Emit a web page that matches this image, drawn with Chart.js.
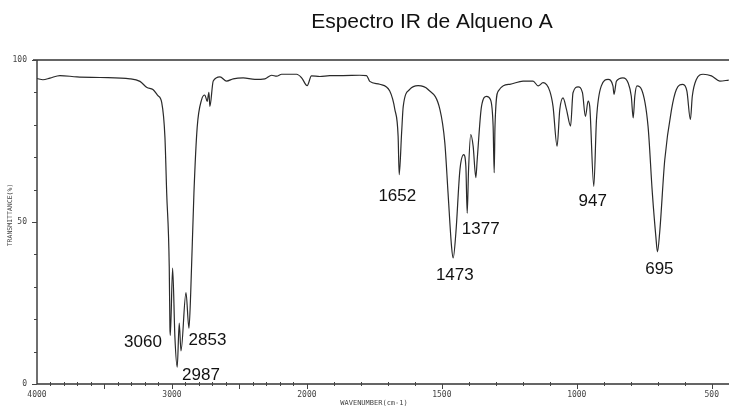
<!DOCTYPE html>
<html>
<head>
<meta charset="utf-8">
<script src="https://cdn.jsdelivr.net/npm/chart.js@4.4.1/dist/chart.umd.min.js"></script>
<style>
  html, body { margin: 0; padding: 0; background: #fff; }
  canvas { display: block; }
</style>
</head>
<body>
<canvas id="myChart" width="729" height="406"></canvas>
<script>
// spectrum (wavenumber in cm-1, transmittance in %)
var wavenumbers = [
  4000, 3956, 3904, 3830, 3704, 3533, 3311, 3237, 3185, 3141, 3104, 3076, 3052, 3039, 3020,
  3015, 3012, 2995, 2978, 2961, 2946, 2933, 2896, 2874, 2861, 2837, 2813, 2780, 2756, 2739,
  2726, 2719, 2694, 2644, 2595, 2546, 2472, 2385, 2311, 2261, 2224, 2187, 2076, 2039, 1999,
  1983, 1952, 1915, 1866, 1804, 1779, 1767, 1730, 1693, 1674, 1662, 1658, 1649, 1643, 1619,
  1588, 1551, 1507, 1489, 1477, 1464, 1458, 1448, 1433, 1419, 1411, 1406, 1401, 1393, 1384,
  1374, 1369, 1353, 1334, 1320, 1310, 1306, 1303, 1291, 1248, 1199, 1162, 1143, 1125, 1100,
  1088, 1073, 1063, 1051, 1038, 1023, 1014, 995, 979, 968, 958, 952, 937, 927, 909,
  884, 866, 862, 853, 829, 810, 798, 791, 785, 777, 760, 736, 720, 707, 701,
  693, 674, 649, 631, 607, 592, 579, 572, 557, 532, 501, 470, 437
];
var transmittance = [
  94.3, 93.9, 94.4, 95.2, 94.8, 94.6, 94.2, 93.4, 91.5, 90.9, 89.0, 86.9, 76.2, 59.0, 36.2,
  17.6, 15.0, 35.8, 14.4, 5.2, 18.8, 10.2, 28.2, 17.2, 28.1, 59.0, 79.2, 87.8, 89.2, 87.2,
  90.0, 85.7, 93.5, 94.8, 93.5, 94.2, 94.5, 94.0, 94.2, 95.3, 95.0, 95.6, 95.6, 94.5, 92.1,
  95.1, 94.9, 95.2, 95.2, 95.3, 95.2, 93.4, 92.5, 90.4, 84.7, 76.5, 64.6, 77.6, 85.7, 90.9,
  92.1, 90.9, 84.7, 74.5, 59.0, 42.4, 38.9, 46.6, 66.1, 70.8, 67.2, 52.7, 66.1, 77.0, 73.4,
  63.7, 69.2, 85.7, 88.8, 87.8, 79.6, 65.2, 79.6, 90.4, 92.5, 93.5, 93.5, 92.0, 93.0, 90.4,
  85.7, 73.4, 84.7, 88.3, 84.7, 79.6, 89.9, 91.7, 89.9, 82.6, 87.3, 85.7, 61.0, 81.6, 92.0,
  94.0, 92.0, 89.4, 93.5, 94.5, 93.0, 88.8, 82.1, 88.8, 92.0, 90.9, 79.6, 58.9, 45.5, 40.8,
  46.6, 69.2, 84.7, 90.9, 92.5, 90.4, 81.6, 88.8, 94.0, 95.6, 95.1, 93.5, 93.8
];

var xTickLabels = [4000, 3000, 2000, 1500, 1000, 500];
var yTickLabels = [0, 50, 100];

// peak labels and where they sit (in data units)
var peakLabels = ['3060', '2987', '2853', '1652', '1473', '1377', '947', '695'];
var peakLabelX = [3215, 2785, 2737, 1665, 1452, 1356, 941, 694];
var peakLabelY = [13.0, 2.8, 13.6, 57.8, 33.4, 47.8, 56.3, 35.5];

// wavenumber axis: scale doubles below 2000 cm-1 like on the paper chart
class IRScale extends Chart.LinearScale {
  units(value) {
    var brk = 2000;
    if (value >= brk) return this.max - value;
    return (this.max - brk) + 2 * (brk - value);
  }
  getPixelForValue(value) {
    var total = this.units(this.min);
    return this.left + this.width * this.units(value) / total;
  }
  getValueForPixel(pixel) {
    var total = this.units(this.min);
    var u = (pixel - this.left) / this.width * total;
    var leftPart = this.max - 2000;
    if (u <= leftPart) return this.max - u;
    return 2000 - (u - leftPart) / 2;
  }
}
IRScale.id = 'irscale';
IRScale.defaults = Chart.LinearScale.defaults;
Chart.register(IRScale);

var irAxes = {
  id: 'irAxes',
  afterDraw: function (chart) {
    var ctx = chart.ctx;
    var xs = chart.scales.x;
    var ys = chart.scales.y;
    var a = chart.chartArea;
    ctx.save();

    // frame
    ctx.strokeStyle = '#333';
    ctx.lineWidth = 1.4;
    ctx.beginPath();
    ctx.moveTo(a.left - 4, a.top);
    ctx.lineTo(a.right, a.top);
    ctx.moveTo(a.left, a.top);
    ctx.lineTo(a.left, a.bottom);
    ctx.lineTo(a.right, a.bottom);
    ctx.stroke();

    // x ticks every 100, longer every 500
    ctx.lineWidth = 1;
    ctx.strokeStyle = '#444';
    ctx.beginPath();
    for (var wn = 3900; wn >= 500; wn -= 100) {
      var px = Math.round(xs.getPixelForValue(wn)) + 0.5;
      if (wn % 500 === 0) {
        ctx.moveTo(px, a.bottom);
        ctx.lineTo(px, a.bottom + 5);
      } else {
        ctx.moveTo(px, a.bottom - 2);
        ctx.lineTo(px, a.bottom + 2);
      }
    }
    // y ticks every 10
    for (var t = 0; t <= 100; t += 10) {
      var py = Math.round(ys.getPixelForValue(t)) + 0.5;
      ctx.moveTo(a.left, py);
      ctx.lineTo(a.left - (t % 50 === 0 ? 5 : 3), py);
    }
    ctx.stroke();

    // tick labels
    ctx.fillStyle = '#444';
    ctx.font = '8px "DejaVu Sans Mono"';
    ctx.textAlign = 'center';
    ctx.textBaseline = 'middle';
    xTickLabels.forEach(function (v) {
      ctx.fillText(String(v), xs.getPixelForValue(v), a.bottom + 11);
    });
    ctx.textAlign = 'right';
    yTickLabels.forEach(function (v) {
      ctx.fillText(String(v), a.left - 10, ys.getPixelForValue(v));
    });

    // axis titles
    ctx.font = '6.5px "DejaVu Sans Mono"';
    ctx.textAlign = 'center';
    ctx.save();
    ctx.translate(10, 215);
    ctx.rotate(-Math.PI / 2);
    ctx.fillText('TRANSMITTANCE(%)', 0, 0);
    ctx.restore();
    ctx.font = '7px "DejaVu Sans Mono"';
    ctx.textBaseline = 'top';
    ctx.fillText('WAVENUMBER(cm-1)', 374, 400);

    // chart title
    ctx.fillStyle = '#111';
    ctx.font = '21px "Liberation Sans", Arial, sans-serif';
    ctx.textBaseline = 'middle';
    ctx.fillText('Espectro IR de Alqueno A', 432, 22);

    // peak labels
    ctx.font = '17px "Liberation Sans", Arial, sans-serif';
    for (var i = 0; i < peakLabels.length; i++) {
      ctx.fillText(peakLabels[i], xs.getPixelForValue(peakLabelX[i]), ys.getPixelForValue(peakLabelY[i]));
    }
    ctx.restore();
  }
};

var points = [];
for (var i = 0; i < wavenumbers.length; i++) {
  points.push({ x: wavenumbers[i], y: transmittance[i] });
}

var ctx = document.getElementById('myChart').getContext('2d');
var chart = new Chart(ctx, {
  type: 'line',
  data: {
    datasets: [{
      data: points,
      borderColor: '#2a2a2a',
      borderWidth: 1.2,
      pointRadius: 0,
      cubicInterpolationMode: 'monotone',
      fill: false
    }]
  },
  options: {
    responsive: false,
    devicePixelRatio: 1,
    animation: false,
    events: [],
    layout: { padding: { left: 37, top: 60, right: 0, bottom: 22 } },
    plugins: {
      legend: { display: false },
      title: { display: false },
      tooltip: { enabled: false }
    },
    scales: {
      x: { type: 'irscale', min: 436, max: 4000, display: false },
      y: { type: 'linear', min: 0, max: 100, display: false }
    }
  },
  plugins: [irAxes]
});
</script>
</body>
</html>
